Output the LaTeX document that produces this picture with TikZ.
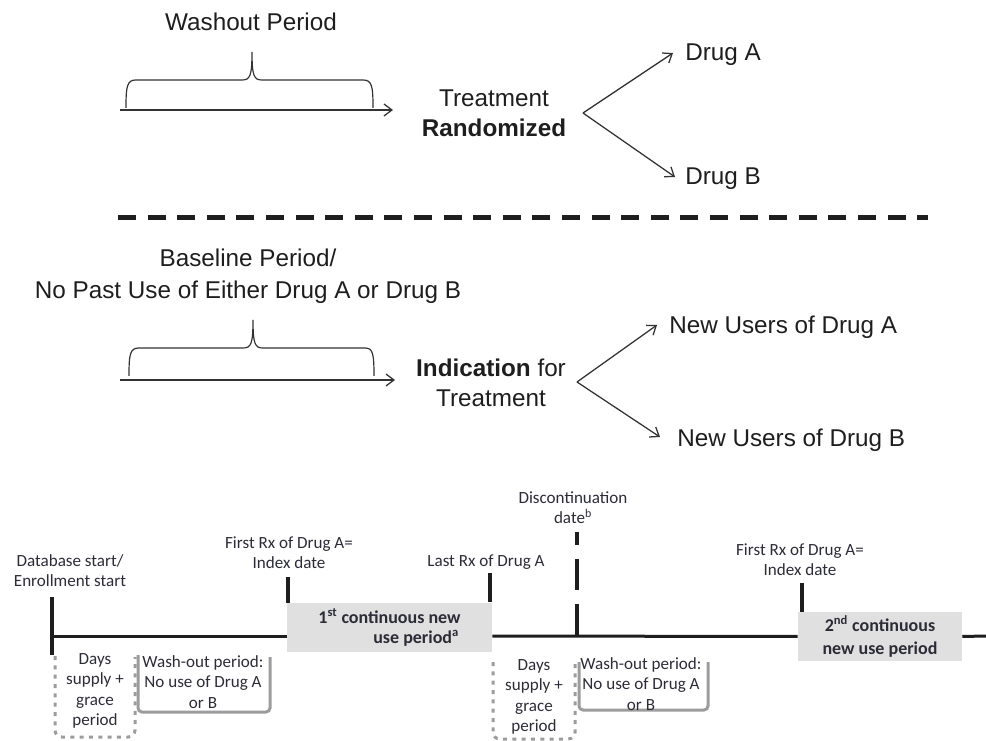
\documentclass[tikz,border=0pt]{standalone}
\usepackage{fontspec}
\setmainfont{Liberation Sans}
\newfontfamily\calib{Carlito}
\usetikzlibrary{arrows.meta}
\definecolor{ink}{HTML}{1E1E1E}
\definecolor{lnk}{HTML}{333333}
\definecolor{boxgray}{HTML}{E0E0E0}
\definecolor{brk}{HTML}{9C9C9C}
\definecolor{btxt}{HTML}{2C2C38}
\begin{document}
\begin{tikzpicture}[x=0.75pt,y=-0.75pt,
  toptext/.style={font=\fontsize{18.2}{22.5}\selectfont, text=ink, align=center, inner sep=0pt},
  bottext/.style={font=\calib\fontsize{12.8}{15.2}\selectfont, text=btxt, align=center, inner sep=0pt},
  periodbox/.style={fill=boxgray, inner sep=0pt, align=center, text=btxt},
  thinarrow/.style={draw=lnk, line width=0.95pt, -{Straight Barb[length=6pt,width=9pt,line width=0.95pt]}},
  bracestyle/.style={draw=lnk, line width=0.9pt},
  sepline/.style={draw=ink, line width=3.75pt, dash pattern=on 13.5pt off 8.7pt},
  timeline/.style={draw=ink, line width=2.25pt},
  tickmark/.style={draw=ink, line width=3pt},
  dotbox/.style={draw=brk, line width=2.25pt, dash pattern=on 3pt off 4pt, rounded corners=5pt},
  washbox/.style={draw=brk, line width=2.25pt, rounded corners=3pt},
]
\useasboundingbox (0,0) rectangle (986,741);

% ---------- top: randomized trial ----------
\node[toptext] (washout) at (251,22) {Washout Period};
\draw[bracestyle] (126,108) .. controls (126,86) and (127,80) .. (136,80) -- (242,80)
  .. controls (250,80) and (252,76) .. (252,52)
  .. controls (252,76) and (254,80) .. (262,80) -- (363,80)
  .. controls (372,80) and (373,86) .. (373,108);
\coordinate (a1s) at (120,110);
\coordinate (a1e) at (393,110);
\draw[thinarrow] (a1s) -- (a1e);
\node[toptext] (treat) at (494,113) {Treatment\\\textbf{Randomized}};
\node[toptext, anchor=west] (drugA) at (685,55) {Drug A};
\node[toptext, anchor=west] (drugB) at (685,179) {Drug B};
\coordinate (fork1) at (583,113);
\draw[thinarrow] (fork1) -- ([shift={(-12,-2)}]drugA.west);
\draw[thinarrow] (fork1) -- ([shift={(-10,-2)}]drugB.west);

% ---------- separator ----------
\coordinate (sepL) at (118,217.5);
\coordinate (sepR) at (928,217.5);
\draw[sepline] (sepL) -- (sepR);

% ---------- middle: observational new-user ----------
\node[toptext, font=\fontsize{18.2}{24}\selectfont] (baseline) at (248,276) {Baseline Period/\\No Past Use of Either Drug A or Drug B};
\draw[bracestyle] (129,376) .. controls (129,354) and (130,348) .. (139,348) -- (243,348)
  .. controls (251,348) and (253,344) .. (253,320)
  .. controls (253,344) and (255,348) .. (263,348) -- (365,348)
  .. controls (373,348) and (374,354) .. (374,376);
\coordinate (a2s) at (120,380);
\coordinate (a2e) at (395,380);
\draw[thinarrow] (a2s) -- (a2e);
\node[toptext] (indic) at (491,382.5) {\textbf{Indication} for\\Treatment};
\node[toptext, anchor=west] (nuA) at (669,327) {New Users of Drug A};
\node[toptext, anchor=west] (nuB) at (677,440) {New Users of Drug B};
\coordinate (fork2) at (577,382);
\draw[thinarrow] (fork2) -- ([shift={(-12,-2)}]nuA.west);
\draw[thinarrow] (fork2) -- ([shift={(-17,-3)}]nuB.west);

% ---------- bottom: timeline ----------
\node[periodbox, minimum width=153.75pt, minimum height=36.75pt,
      font=\calib\bfseries\fontsize{13.5}{15}\selectfont] (box1) at (389.5,627.5)
  {1\textsuperscript{st} continuous new\\\hspace*{40pt}use period\textsuperscript{a}};
\node[periodbox, minimum width=123pt, minimum height=36.75pt,
      font=\calib\bfseries\fontsize{13.5}{17}\selectfont] (box2) at (880,636.5)
  {2\textsuperscript{nd} continuous\\new use period};

\coordinate (tl0) at (52,636);
\coordinate (tlend) at (986,636);
\draw[timeline] (tl0) -- (box1.west |- tl0);
\draw[timeline] (box1.east |- tl0) -- (box2.west);
\draw[timeline] (box2.east) -- (tlend);

% ticks
\coordinate (t0a) at (52,597);
\coordinate (t0b) at (52,655);
\draw[tickmark] (t0a) -- (t0b);
\coordinate (t1a) at (288,577);
\draw[tickmark] (t1a) -- (t1a |- box1.north);
\coordinate (t2a) at (490,573);
\coordinate (t2b) at (490,602);
\draw[tickmark] (t2a) -- (t2b);
\coordinate (t3a) at (577,635);
\coordinate (t3b) at (577,532);
\draw[tickmark, dash pattern=on 23.25pt off 10.5pt] (t3a) -- (t3b);
\coordinate (t4a) at (802,583);
\draw[tickmark] (t4a) -- (t4a |- box2.north);

% labels
\node[bottext] (dbstart) at (70,571) {Database start/\\Enrollment start};
\node[bottext] (firstrx1) at (289,553) {First Rx of Drug A=\\Index date};
\node[bottext] (lastrx) at (486,562) {Last Rx of Drug A};
\node[bottext] (discont) at (573,507.5) {Discontinuation\\date\textsuperscript{b}};
\node[bottext] (firstrx2) at (800,559.5) {First Rx of Drug A=\\Index date};

% grace / washout brackets
\draw[dotbox] (55,656) -- (55,737) -- (135,737) -- (135,657);
\node[bottext] (days1) at (95,691) {Days\\supply +\\grace\\period};
\draw[washbox] (138,655) -- (138,712) -- (270,712) -- (270,657);
\node[bottext] (wash1) at (203,682) {Wash-out period:\\No use of Drug A\\or B};

\draw[dotbox] (493,662) -- (493,739) -- (575,739) -- (575,662);
\node[bottext] (days2) at (534,697) {Days\\supply +\\grace\\period};
\draw[washbox] (579,662) -- (579,710) -- (708,710) -- (708,662);
\node[bottext] (wash2) at (641,684) {Wash-out period:\\No use of Drug A\\or B};
\end{tikzpicture}
\end{document}
